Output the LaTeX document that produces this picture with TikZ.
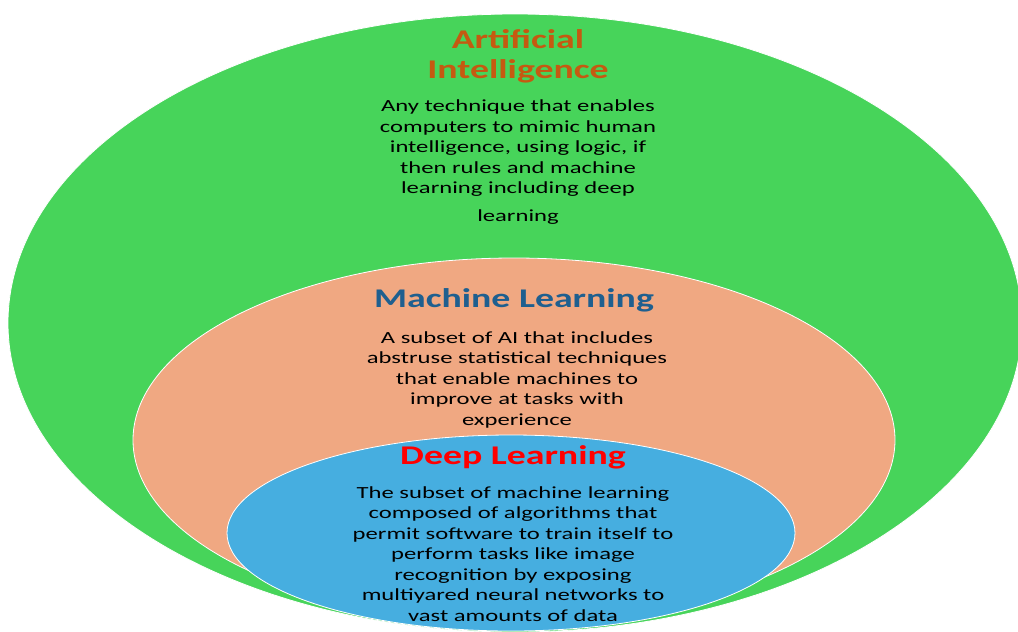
\documentclass[tikz,border=0pt]{standalone}
\usepackage{fontspec}
\setmainfont{Carlito}[FakeStretch=1.45]
\newfontfamily\headfont{Carlito}[FakeStretch=1.4]
\definecolor{aigreen}{HTML}{47D45A}
\definecolor{mlorange}{HTML}{F0A882}
\definecolor{dlblue}{HTML}{46AEE0}
\definecolor{aititle}{HTML}{C55A11}
\definecolor{mltitle}{HTML}{1F5F8F}
\definecolor{dltitle}{HTML}{FF0000}
\begin{document}
\begin{tikzpicture}[x=1pt,y=-1pt,
		title/.style = {font=\headfont\fontsize{27}{30}\selectfont\bfseries, align=center, inner sep=0pt},
		body/.style = {font=\fontsize{17}{20.5}\selectfont, align=center, inner sep=0pt, text=black},
		ring/.style = {draw=white, thick}]
		
		\useasboundingbox (0,0) rectangle (1018,632);
		\clip (0,0) rectangle (1018,632);
		
		% the three nested sets
		\filldraw[ring, fill=aigreen] (515,323) ellipse (507 and 309);
		\filldraw[ring, fill=mlorange] (514,440) ellipse (381 and 182);
		\filldraw[ring, fill=dlblue] (511,533) ellipse (284 and 98);
		
		\node[title, text=aititle] (aiTitle) at (518,56) {Artificial\\Intelligence};
		\node[body] (aiText) at (518,162) {Any technique that enables\\computers to mimic human\\intelligence, using logic, if\\then rules and machine\\learning including deep\\[7pt]learning};
		
		\node[title, text=mltitle] (mlTitle) at (514,300) {Machine Learning};
		\node[body] (mlText) at (517,379.5) {A subset of AI that includes\\abstruse statistical techniques\\that enable machines to\\improve at tasks with\\experience};
		
		\node[title, text=dltitle] (dlTitle) at (513,457) {Deep Learning};
		\node[body] (dlText) at (513,554) {The subset of machine learning\\composed of algorithms that\\permit software to train itself to\\perform tasks like image\\recognition by exposing\\multiyared neural networks to\\vast amounts of data};
\end{tikzpicture}
\end{document}
